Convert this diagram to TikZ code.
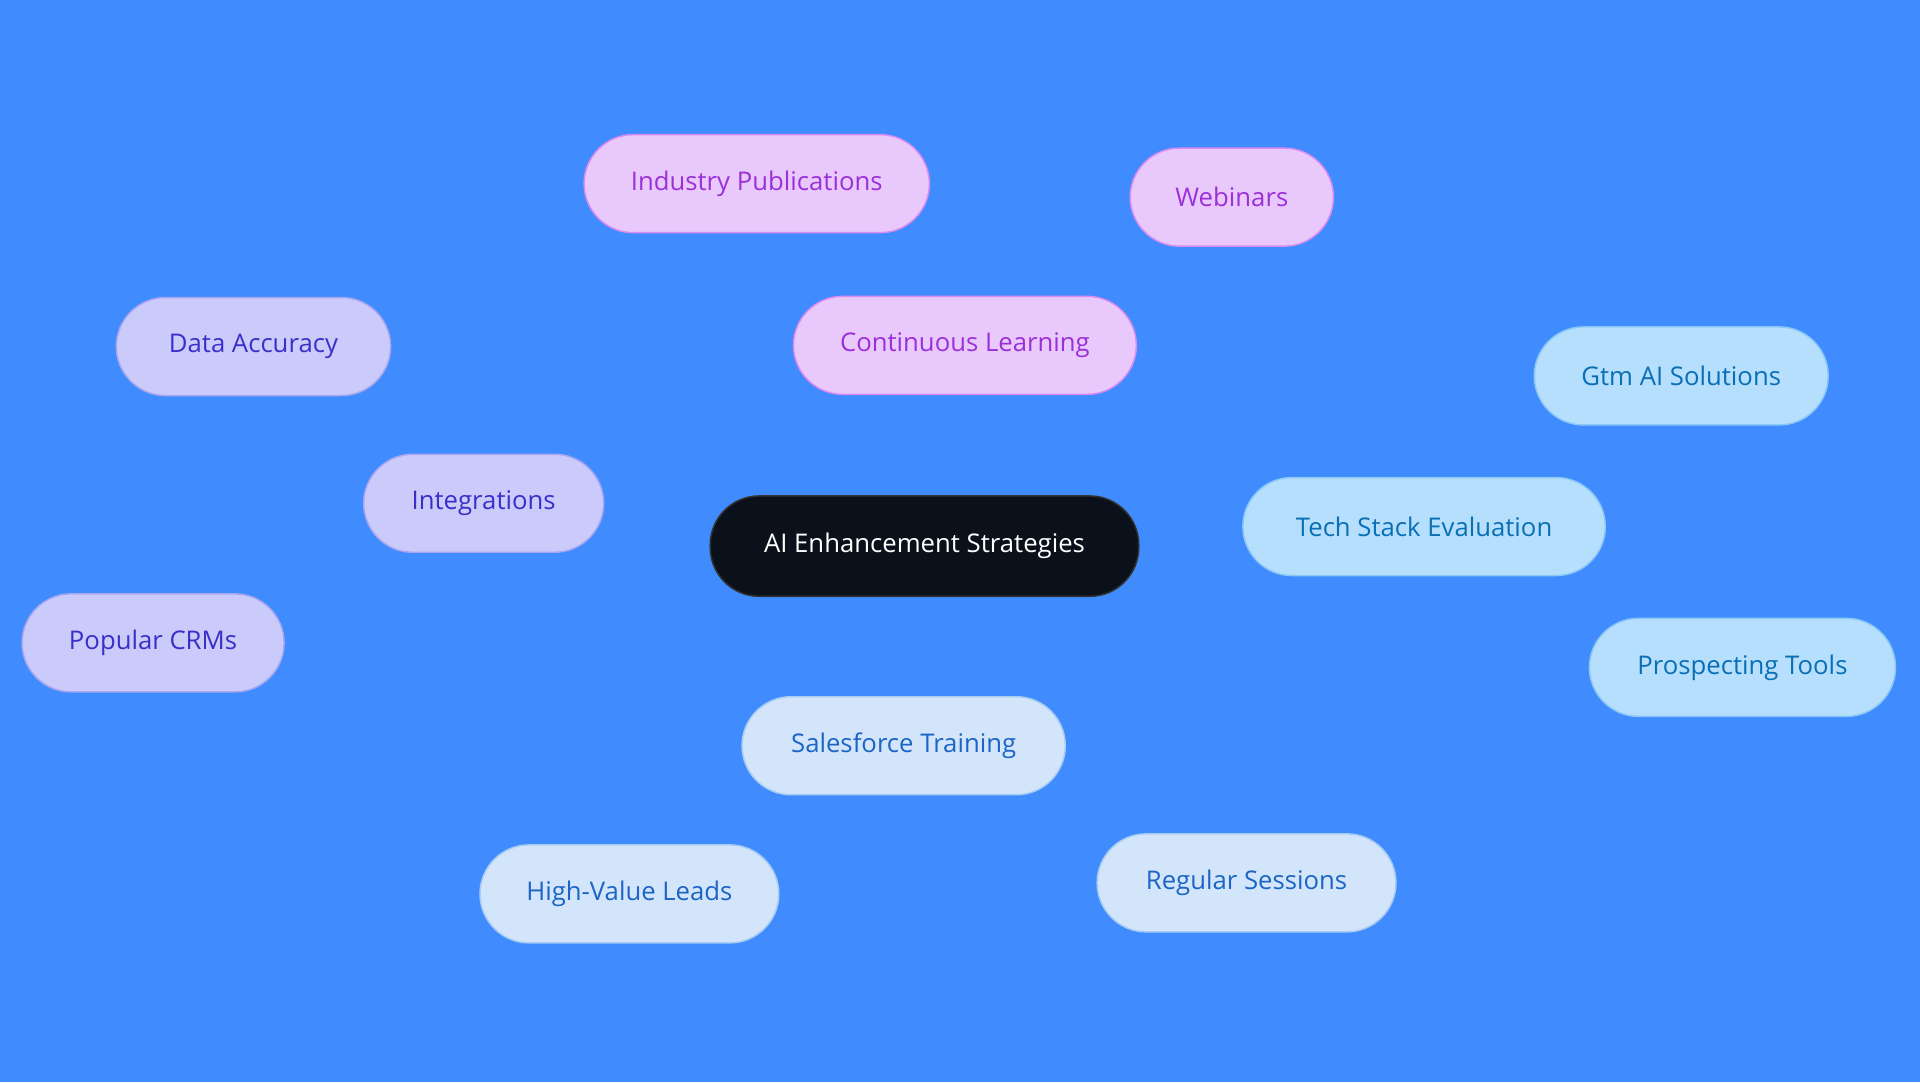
\documentclass[tikz,border=0pt]{standalone}
\usepackage{fontspec}
\setmainfont{Open Sans}
\usetikzlibrary{backgrounds}
\definecolor{bg}{RGB}{64,140,255}
\definecolor{pf}{RGB}{233,201,251}\definecolor{pd}{RGB}{217,139,240}\definecolor{pt}{RGB}{155,48,217}
\definecolor{if}{RGB}{203,203,251}\definecolor{id}{RGB}{169,166,240}\definecolor{it}{RGB}{59,47,201}
\definecolor{sf}{RGB}{181,223,253}\definecolor{sd}{RGB}{140,200,245}\definecolor{st}{RGB}{10,111,181}
\definecolor{lf}{RGB}{210,229,251}\definecolor{ld}{RGB}{169,204,242}\definecolor{lt}{RGB}{28,101,196}
\definecolor{cf}{RGB}{11,17,26}
\begin{document}
\begin{tikzpicture}[x=0.5pt,y=-0.5pt,
 base/.style={rounded corners=20pt,minimum height=40pt,line width=0.6pt,font=\fontsize{10.5}{12}\selectfont,inner sep=0pt},
 pur/.style={base,fill=pf,draw=pd,text=pt},
 ind/.style={base,fill=if,draw=id,text=it},
 sky/.style={base,fill=sf,draw=sd,text=st},
 lb/.style={base,fill=lf,draw=ld,text=lt},
 lp/.style={draw=pd,line width=1.2pt},
 li/.style={draw=id,line width=1.2pt},
 ls/.style={draw=sd,line width=1.2pt},
 ll/.style={draw=ld,line width=1.2pt}]
\fill[bg] (0,0) rectangle (1568,884);
\useasboundingbox (0,0) rectangle (1568,884);
\node[base,fill=cf,draw=black!80,text=white,minimum width=175pt,minimum height=41pt] (c) at (755,446) {AI Enhancement Strategies};
\node[pur,minimum width=140pt] (cl) at (788,282) {Continuous Learning};
\node[pur,minimum width=141pt] (ip) at (618,150) {Industry Publications};
\node[pur,minimum width=83pt] (wb) at (1006,161) {Webinars};
\node[ind,minimum width=98pt] (in) at (395,411) {Integrations};
\node[ind,minimum width=112pt] (da) at (207,283) {Data Accuracy};
\node[ind,minimum width=107pt] (pc) at (125,525) {Popular CRMs};
\node[sky,minimum width=148pt] (ts) at (1163,430) {Tech Stack Evaluation};
\node[sky,minimum width=120pt] (gt) at (1373,307) {Gtm AI Solutions};
\node[sky,minimum width=125pt] (ptn) at (1423,545) {Prospecting Tools};
\node[lb,minimum width=132pt] (sft) at (738,609) {Salesforce Training};
\node[lb,minimum width=122pt] (hv) at (514,730) {High-Value Leads};
\node[lb,minimum width=122pt] (rs) at (1018,721) {Regular Sessions};
\begin{pgfonlayer}{background}
\fill[bg] (0,0) rectangle (1568,884);
\draw[lp] (c) -- (cl);
\draw[lp] (cl) -- (ip);
\draw[lp] (cl) -- (wb);
\draw[li] (c) -- (in);
\draw[li] (in) -- (da);
\draw[li] (in) -- (pc);
\draw[ls] (c) -- (ts);
\draw[ls] (ts) -- (gt);
\draw[ls] (ts) -- (ptn);
\draw[ll] (c) -- (sft);
\draw[ll] (sft) -- (hv);
\draw[ll] (sft) -- (rs);
\end{pgfonlayer}
\end{tikzpicture}
\end{document}
